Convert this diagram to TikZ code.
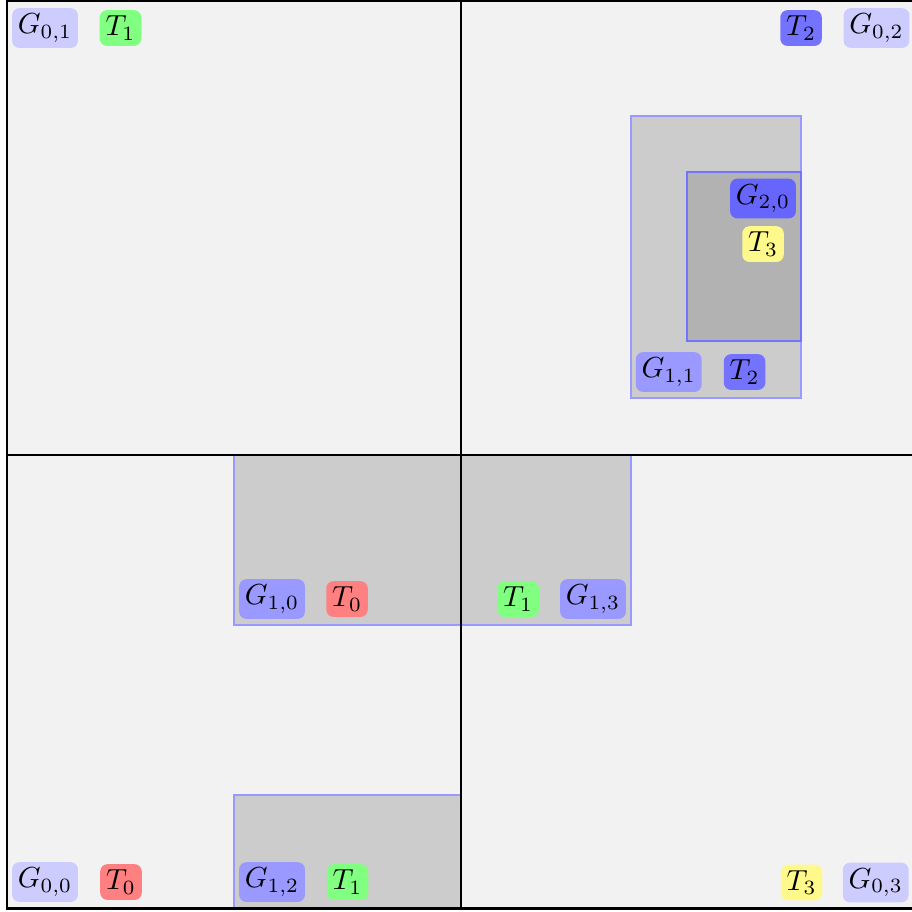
\documentclass[tikz,border=0pt]{standalone}
\begin{document}
\begin{tikzpicture}[
	lbl/.style={rounded corners=2.5pt, inner sep=2pt},
	blk/.style={fill=gray!40, draw=blue!40, line width=0.6pt},
	]
	\useasboundingbox (-0.085,-0.033) rectangle (10.971,11.012);
	% cells
	\fill[gray!10] (0,0) rectangle (11,11);
	% level 1 and 2 blocks
	\filldraw[blk] (2.75,3.434) rectangle (7.565,5.5);
	\filldraw[blk] (2.75,0) rectangle (5.5,1.374);
	\filldraw[blk] (7.565,6.186) rectangle (9.626,9.605);
	\filldraw[fill=gray!60, draw=blue!55, line width=0.6pt] (8.244,6.877) rectangle (9.626,8.926);
	% grid
	\draw[thick] (0,0) rectangle (11,11);
	\draw[thick] (5.5,0) -- (5.5,11);
	\draw[thick] (0,5.5) -- (11,5.5);
	% labels
	\node[lbl, fill=blue!20] (g01) at (0.461,10.672) {$G_{0,1}$};
	\node[lbl, fill=green!50] (t1a) at (1.376,10.672) {$T_1$};
	\node[lbl, fill=blue!55] (t2a) at (9.626,10.672) {$T_2$};
	\node[lbl, fill=blue!20] (g02) at (10.541,10.672) {$G_{0,2}$};
	\node[lbl, fill=blue!60] (g20) at (9.165,8.605) {$G_{2,0}$};
	\node[lbl, fill=yellow!45] (t3a) at (9.165,8.053) {$T_3$};
	\node[lbl, fill=blue!40] (g11) at (8.022,6.502) {$G_{1,1}$};
	\node[lbl, fill=blue!55] (t2b) at (8.941,6.502) {$T_2$};
	\node[lbl, fill=blue!40] (g10) at (3.213,3.750) {$G_{1,0}$};
	\node[lbl, fill=red!50] (t0a) at (4.122,3.750) {$T_0$};
	\node[lbl, fill=green!50] (t1b) at (6.195,3.750) {$T_1$};
	\node[lbl, fill=blue!40] (g13) at (7.104,3.750) {$G_{1,3}$};
	\node[lbl, fill=blue!20] (g00) at (0.461,0.319) {$G_{0,0}$};
	\node[lbl, fill=red!50] (t0b) at (1.382,0.319) {$T_0$};
	\node[lbl, fill=blue!40] (g12) at (3.213,0.319) {$G_{1,2}$};
	\node[lbl, fill=green!50] (t1c) at (4.128,0.319) {$T_1$};
	\node[lbl, fill=yellow!45] (t3b) at (9.632,0.313) {$T_3$};
	\node[lbl, fill=blue!20] (g03) at (10.531,0.313) {$G_{0,3}$};
\end{tikzpicture}
\end{document}
